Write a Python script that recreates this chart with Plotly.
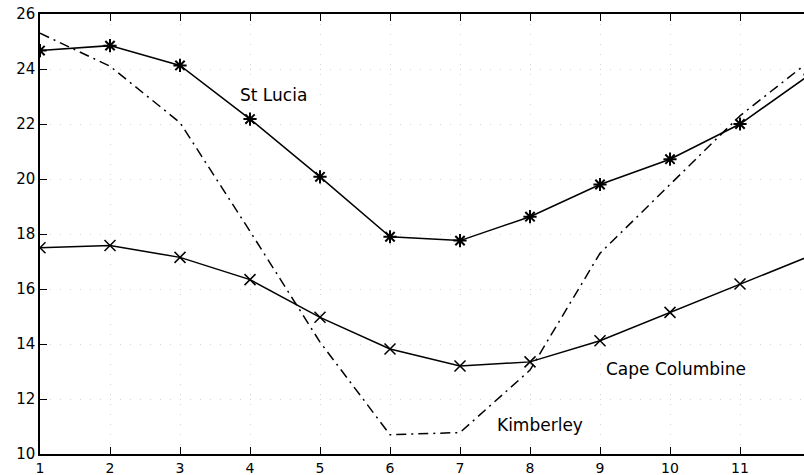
import plotly.graph_objects as go

months = list(range(1, 13))
st_lucia = [24.67, 24.85, 24.13, 22.18, 20.08, 17.9, 17.76, 18.63, 19.8, 20.72, 22.0, 23.8]
cape_columbine = [17.5, 17.58, 17.15, 16.34, 14.97, 13.82, 13.2, 13.35, 14.12, 15.15, 16.18, 17.2]
kimberley = [25.3, 24.1, 22.05, 18.1, 14.07, 10.7, 10.78, 13.05, 17.3, 19.8, 22.3, 24.3]

labels = [
    ("St Lucia", 4.34, 23.04),
    ("Cape Columbine", 10.09, 13.08),
    ("Kimberley", 8.14, 11.05),
]

font_family = "DejaVu Sans"

fig = go.Figure()
fig.add_trace(go.Scatter(
    x=months, y=kimberley, mode="lines", name="Kimberley",
    line=dict(color="black", width=1.5, dash="10px,5px,2px,5px"),
))
fig.add_trace(go.Scatter(
    x=months, y=st_lucia, mode="lines+markers", name="St Lucia",
    line=dict(color="black", width=1.5),
    marker=dict(symbol="asterisk-open", size=11, line=dict(color="black", width=2)),
))
fig.add_trace(go.Scatter(
    x=months, y=cape_columbine, mode="lines+markers", name="Cape Columbine",
    line=dict(color="black", width=1.5),
    marker=dict(symbol="x-thin-open", size=11, line=dict(color="black", width=1.5)),
))

for text, x, y in labels:
    fig.add_annotation(x=x, y=y, text=text, showarrow=False,
                       font=dict(family=font_family, size=17, color="black"))

grid_color = "#d4d4d4"
grid_dash = "1px,9px"

fig.update_layout(
    width=804, height=475,
    margin=dict(l=40, r=0, t=14, b=21),
    paper_bgcolor="white", plot_bgcolor="white",
    showlegend=False,
    font=dict(family=font_family, size=15, color="black"),
    xaxis=dict(
        range=[1, 11.914], tickmode="array", tickvals=months,
        ticks="inside", ticklen=7, tickcolor="black", tickwidth=1,
        showline=True, linecolor="black", linewidth=1.5, mirror="ticks",
        showgrid=True, gridcolor=grid_color, griddash=grid_dash, gridwidth=1,
        zeroline=False, automargin=False,
        tickfont=dict(family=font_family, size=14, color="black"),
    ),
    yaxis=dict(
        range=[10, 26], tickmode="array", tickvals=list(range(10, 27, 2)),
        ticks="inside", ticklen=7, tickcolor="black", tickwidth=1,
        showline=True, linecolor="black", linewidth=1.5, mirror=False,
        showgrid=True, gridcolor=grid_color, griddash=grid_dash, gridwidth=1,
        zeroline=False, automargin=False,
        tickfont=dict(family=font_family, size=15, color="black"),
    ),
    yaxis2=dict(
        range=[10, 26], tickmode="array", tickvals=list(range(10, 27, 2)),
        overlaying="y", side="right", matches="y",
        ticks="inside", ticklen=5, tickcolor="black", tickwidth=1,
        showline=False, showgrid=False, showticklabels=False,
        zeroline=False, automargin=False,
    ),
)

fig.write_html("out.html")
